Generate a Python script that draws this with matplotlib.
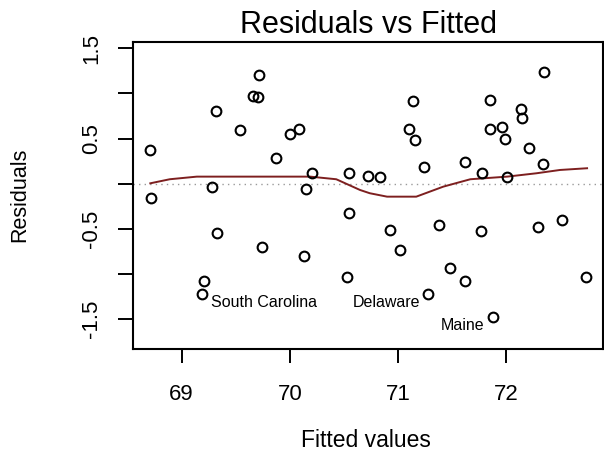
import matplotlib
matplotlib.use("Agg")
import matplotlib.pyplot as plt

plt.rcParams['font.family'] = ['Liberation Sans', 'DejaVu Sans']

# fitted values and residuals (one per state)
fitted = [68.71, 68.72, 69.19, 69.21, 69.28, 69.32, 69.33, 69.54, 69.66, 69.71,
          69.72, 69.74, 69.87, 70.00, 70.09, 70.13, 70.15, 70.21, 70.53, 70.55,
          70.55, 70.72, 70.83, 70.93, 71.02, 71.10, 71.14, 71.16, 71.24, 71.28,
          71.38, 71.48, 71.62, 71.62, 71.77, 71.78, 71.85, 71.85, 71.88, 71.96,
          71.99, 72.01, 72.14, 72.15, 72.21, 72.30, 72.34, 72.35, 72.52, 72.74]
residuals = [0.37, -0.16, -1.22, -1.08, -0.04, 0.81, -0.55, 0.60, 0.97, 0.96,
             1.21, -0.70, 0.29, 0.55, 0.61, -0.80, -0.06, 0.12, -1.04, 0.12,
             -0.32, 0.09, 0.07, -0.51, -0.74, 0.61, 0.92, 0.48, 0.19, -1.22,
             -0.46, -0.93, 0.24, -1.08, -0.53, 0.12, 0.93, 0.61, -1.48, 0.63,
             0.50, 0.07, 0.83, 0.73, 0.39, -0.48, 0.22, 1.24, -0.40, -1.04]

# lowess smoother
smooth_x = [68.71, 68.89, 69.14, 70.19, 70.43, 70.65, 70.74, 70.90, 71.17,
            71.42, 71.67, 72.01, 72.28, 72.50, 72.75]
smooth_y = [0.004, 0.049, 0.078, 0.078, 0.049, -0.070, -0.106, -0.144, -0.144,
            -0.033, 0.049, 0.078, 0.115, 0.152, 0.171]

# labelled points: (name, index into fitted/residuals, side)
labelled = [("South Carolina", 2, "right"), ("Delaware", 29, "left"), ("Maine", 38, "left")]

xticks = [69, 70, 71, 72]
yticks = [-1.5, -1.0, -0.5, 0.0, 0.5, 1.0, 1.5]
ytick_labels = ["-1.5", "", "-0.5", "", "0.5", "", "1.5"]

fig = plt.figure(figsize=(6.04, 4.54), dpi=100)
ax = fig.add_axes([133 / 604, 1 - 349 / 454, (603.3 - 133) / 604, (349 - 41.7) / 454])

ax.axhline(0, color='#9a9a9a', linestyle=(0, (1, 3)), linewidth=1.0, zorder=1)
ax.plot(fitted, residuals, 'o', mfc='none', mec='black', ms=7, mew=1.5, zorder=3)
ax.plot(smooth_x, smooth_y, color='#7d1f1f', linewidth=1.4, zorder=2)

for name, i, side in labelled:
    if side == "right":
        ax.annotate(name, (fitted[i], residuals[i]), xytext=(6, -6),
                    textcoords='offset points', ha='left', va='center', fontsize=11.5)
    else:
        ax.annotate(name, (fitted[i], residuals[i]), xytext=(-6, -6),
                    textcoords='offset points', ha='right', va='center', fontsize=11.5)

ax.set_xlim(68.55, 72.90)
ax.set_ylim(-1.833, 1.574)
ax.set_xticks(xticks)
ax.set_xticklabels([str(t) for t in xticks], fontsize=16)
ax.set_yticks(yticks)
ax.set_yticklabels(ytick_labels, fontsize=16, rotation=90, va='center')
ax.tick_params(axis='x', length=10, width=1.4, pad=15)
ax.tick_params(axis='y', length=11, width=1.4, pad=11)
for sp in ax.spines.values():
    sp.set_linewidth(1.5)

fig.text(368 / 604, 1 - 33 / 454, "Residuals vs Fitted", ha='center', va='baseline', fontsize=22)
fig.text(366 / 604, 2 / 454, "Fitted values", ha='center', va='bottom', fontsize=16.5)
fig.text(20 / 604, 1 - 195 / 454, "Residuals", ha='center', va='center', rotation=90, fontsize=15.5)

fig.savefig("out.png", dpi=100)
